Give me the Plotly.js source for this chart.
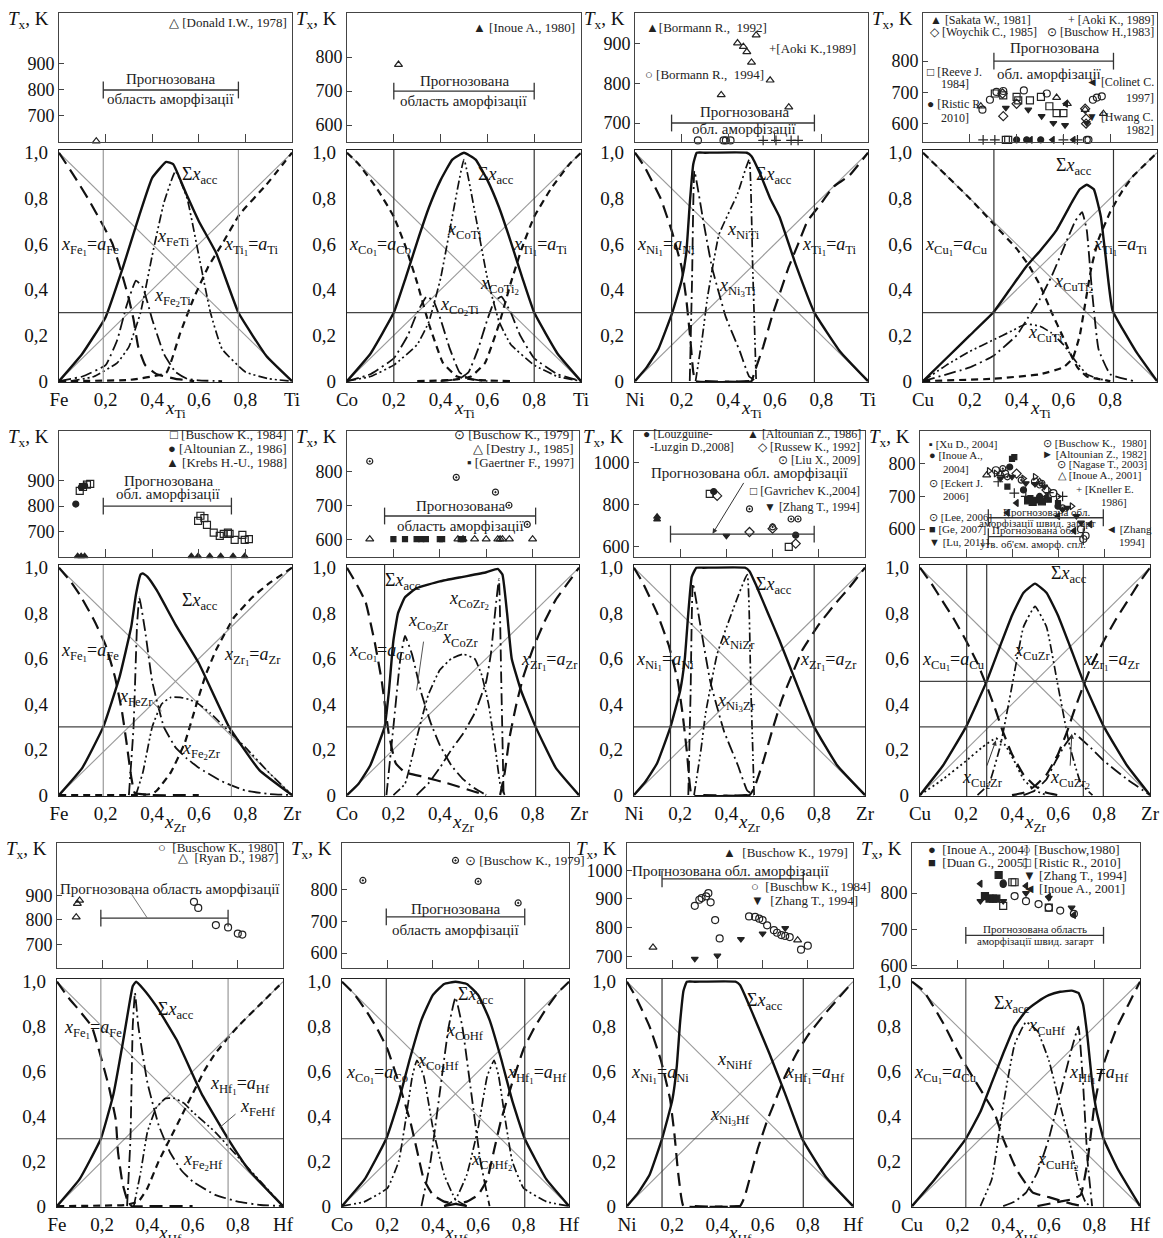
<!DOCTYPE html>
<html><head><meta charset="utf-8">
<script src="https://cdn.plot.ly/plotly-3.0.1.min.js"></script>
<style>body{margin:0;background:#fff}</style></head>
<body><div id="chart" style="width:1163px;height:1238px"></div>
<script>
// ================= DATA =================
const accLevel = [0.3];
const diag_x = [0, 1], diag_dn = [1, 0], diag_up = [0, 1];
const fracTicks = [0, 0.2, 0.4, 0.6, 0.8, 1];
const fracTickText = ['0', '0,2', '0,4', '0,6', '0,8', '1,0'];
const midTickText = ['0,2', '0,4', '0,6', '0,8'];

// ---- P1 Fe-Ti ----
const feti_donald_x = [0.16], feti_donald_y = [603];
const feti_zone = [0.19, 0.77], feti_zoneT = [800];
const feti_sum_x = [0,0.1,0.2,0.275,0.346,0.4,0.46,0.49,0.546,0.6,0.675,0.77,0.89,1];
const feti_sum_y = [0,0.12,0.28,0.5,0.73,0.89,0.96,0.95,0.82,0.7,0.56,0.3,0.11,0];
const feti_fe1_x = [0,0.07,0.13,0.19,0.23,0.27,0.3,0.32,0.34,0.37,0.42,0.5,0.58];
const feti_fe1_y = [1,0.89,0.79,0.68,0.6,0.47,0.36,0.27,0.15,0.07,0.03,0.01,0];
const feti_fe2ti_x = [0,0.1,0.2,0.25,0.29,0.33,0.36,0.4,0.45,0.5,0.55,0.6,0.7];
const feti_fe2ti_y = [0,0.02,0.07,0.18,0.33,0.44,0.41,0.27,0.12,0.04,0.01,0.003,0];
const feti_feti_x = [0.05,0.15,0.25,0.3,0.35,0.4,0.45,0.5,0.55,0.6,0.65,0.7,0.8,0.9,1];
const feti_feti_y = [0,0.02,0.08,0.15,0.3,0.55,0.78,0.92,0.8,0.55,0.3,0.14,0.04,0.01,0];
const feti_ti1_x = [0,0.3,0.46,0.52,0.575,0.64,0.7,0.775,0.89,1];
const feti_ti1_y = [0,0.005,0.036,0.21,0.355,0.5,0.6,0.73,0.86,1];

// ---- P2 Co-Ti ----
const coti_inoue_x = [0.22], coti_inoue_y = [778];
const coti_zone = [0.2, 0.8], coti_zoneT = [700];
const coti_sum_x = [0,0.1,0.2,0.25,0.3,0.35,0.4,0.45,0.5,0.55,0.6,0.65,0.7,0.75,0.8,0.9,1];
const coti_sum_y = [0,0.12,0.3,0.45,0.61,0.76,0.88,0.97,1.0,0.97,0.88,0.76,0.61,0.45,0.3,0.12,0];
const coti_co1_x = [0,0.05,0.13,0.2,0.25,0.3,0.35,0.41,0.47,0.55,0.7];
const coti_co1_y = [1,0.95,0.84,0.72,0.59,0.43,0.25,0.08,0.02,0.005,0];
const coti_ti1_x = [0.3,0.45,0.53,0.59,0.65,0.7,0.75,0.8,0.87,0.95,1];
const coti_ti1_y = [0,0.005,0.02,0.08,0.25,0.43,0.59,0.72,0.84,0.95,1];
const coti_co2ti_x = [0,0.1,0.2,0.26,0.3,0.34,0.37,0.4,0.44,0.48,0.52,0.6];
const coti_co2ti_y = [0,0.03,0.1,0.2,0.3,0.37,0.35,0.27,0.14,0.04,0.01,0];
const coti_coti2_x = [0.4,0.48,0.52,0.56,0.6,0.63,0.66,0.7,0.74,0.8,0.9,1];
const coti_coti2_y = [0,0.01,0.04,0.14,0.27,0.35,0.37,0.3,0.2,0.1,0.03,0];
const coti_coti_x = [0,0.1,0.2,0.3,0.35,0.4,0.45,0.5,0.55,0.6,0.65,0.7,0.8,0.9,1];
const coti_coti_y = [0,0.02,0.07,0.16,0.26,0.45,0.72,0.97,0.72,0.45,0.26,0.16,0.07,0.02,0];

// ---- P3 Ni-Ti ----
const niti_b92_x = [0.37,0.44,0.465,0.48,0.5,0.52,0.58,0.66];
const niti_b92_y = [771,902,893,880,853,922,808,740];
const niti_b94_x = [0.27,0.38,0.39,0.41], niti_b94_y = [656,656,656,656];
const niti_aoki_x = [0.55,0.605,0.67,0.7], niti_aoki_y = [656,656,656,656];
const niti_zone = [0.157, 0.77], niti_zoneT = [700];
const niti_sum_x = [0,0.05,0.1,0.16,0.2,0.22,0.236,0.25,0.265,0.3,0.48,0.5,0.536,0.58,0.62,0.69,0.77,0.88,1];
const niti_sum_y = [0,0.06,0.14,0.3,0.44,0.56,0.79,0.95,1.0,1.0,1.0,0.985,0.91,0.8,0.72,0.51,0.3,0.13,0];
const niti_ni1_x = [0,0.04,0.11,0.16,0.2,0.22,0.236,0.25,0.26,0.5];
const niti_ni1_y = [1,0.94,0.8,0.65,0.5,0.36,0.2,0.04,0,0];
const niti_ni3ti_x = [0.235,0.245,0.255,0.29,0.33,0.39,0.45,0.49,0.52];
const niti_ni3ti_y = [0,0.45,0.92,0.72,0.5,0.28,0.13,0.02,0];
const niti_niti_x = [0.26,0.29,0.31,0.36,0.44,0.49,0.505,0.52];
const niti_niti_y = [0,0.2,0.36,0.64,0.82,0.97,0.5,0];
const niti_ti1_x = [0.3,0.5,0.51,0.55,0.59,0.62,0.66,0.7,0.74,0.8,0.85,0.92,1];
const niti_ti1_y = [0,0,0.03,0.15,0.29,0.38,0.5,0.6,0.7,0.78,0.85,0.9,1];

// ---- P4 Cu-Ti ----
const cuti_sakata_x = [0.247,0.571,0.617,0.693,0.771], cuti_sakata_y = [655,683,663,644,631];
const cuti_busch_x = [0.254,0.286,0.314,0.343,0.431,0.529,0.726,0.743,0.764,0.7,0.707];
const cuti_busch_y = [644,676,701,704,706,696,676,683,687,547,547];
const cuti_woy_x = [0.34,0.343,0.4,0.693,0.697,0.697], cuti_woy_y = [696,623,663,647,615,599];
const cuti_reeve_x = [0.307,0.343,0.4,0.407,0.457,0.504,0.54,0.571,0.6,0.354,0.364];
const cuti_reeve_y = [696,690,685,674,674,685,655,633,633,547,547];
const cuti_hwang_x = [0.354,0.45,0.507,0.557,0.607,0.7], cuti_hwang_y = [650,644,623,601,594,601];
const cuti_colinet_x = [0.611,0.46,0.554,0.643], cuti_colinet_y = [663,547,547,547];
const cuti_aoki_x = [0.257,0.307,0.6,0.66], cuti_aoki_y = [547,547,547,547];
const cuti_ristic_x = [0.4,0.443,0.503], cuti_ristic_y = [547,547,547];
const cuti_zone = [0.303, 0.814], cuti_zoneT = [800];
const cuti_sum_x = [0,0.1,0.2,0.3,0.37,0.44,0.5,0.57,0.64,0.67,0.7,0.73,0.76,0.78,0.81,0.91,1];
const cuti_sum_y = [0,0.1,0.2,0.3,0.4,0.5,0.57,0.66,0.79,0.84,0.86,0.84,0.72,0.55,0.31,0.13,0];
const cuti_cu1_x = [0,0.1,0.2,0.3,0.4,0.45,0.5,0.55,0.6,0.63,0.66,0.7,0.8];
const cuti_cu1_y = [1,0.9,0.8,0.69,0.58,0.51,0.42,0.3,0.19,0.12,0.06,0.02,0];
const cuti_ti1_x = [0,0.3,0.5,0.6,0.64,0.67,0.69,0.72,0.75,0.8,0.85,0.9,0.95,1];
const cuti_ti1_y = [0,0.01,0.03,0.06,0.1,0.2,0.32,0.5,0.62,0.74,0.83,0.9,0.95,1];
const cuti_cuti2_x = [0,0.2,0.3,0.4,0.45,0.5,0.55,0.6,0.65,0.68,0.7,0.72,0.75,0.8,0.9];
const cuti_cuti2_y = [0,0.06,0.11,0.2,0.28,0.36,0.46,0.58,0.7,0.74,0.66,0.42,0.14,0.03,0];
const cuti_cuti_x = [0,0.1,0.2,0.3,0.38,0.44,0.5,0.55,0.6,0.65,0.7,0.75,0.8];
const cuti_cuti_y = [0,0.07,0.13,0.18,0.22,0.25,0.24,0.21,0.16,0.09,0.03,0.01,0];

// ---- P5 Fe-Zr ----
const fezr_busch_x = [0.089,0.103,0.12,0.134,0.597,0.607,0.624,0.635,0.664,0.69,0.707,0.725,0.732,0.754,0.787,0.797,0.815];
const fezr_busch_y = [860,875,884,887,742,762,753,726,696,683,691,696,691,667,687,667,670];
const fezr_alt_x = [0.072,0.096,0.11], fezr_alt_y = [808,874,880];
const fezr_krebs_x = [0.08,0.095,0.11,0.568,0.597,0.647,0.694,0.747,0.797];
const fezr_krebs_y = [603,603,603,603,603,603,603,603,603];
const fezr_zone = [0.19, 0.74], fezr_zoneT = [800];
const fezr_sum_x = [0,0.1,0.19,0.26,0.31,0.33,0.35,0.36,0.38,0.42,0.5,0.6,0.73,0.86,1];
const fezr_sum_y = [0,0.12,0.3,0.52,0.74,0.88,0.97,0.975,0.96,0.9,0.75,0.58,0.3,0.11,0];
const fezr_fe1_x = [0,0.05,0.09,0.15,0.2,0.24,0.27,0.29,0.31,0.325,0.4,0.6];
const fezr_fe1_y = [1,0.94,0.88,0.77,0.66,0.52,0.37,0.23,0.08,0.01,0,0];
const fezr_fe2zr_x = [0.3,0.32,0.335,0.345,0.37,0.4,0.45,0.5,0.55,0.6,0.7,0.8,0.9,1];
const fezr_fe2zr_y = [0,0.3,0.75,0.87,0.72,0.5,0.3,0.21,0.16,0.12,0.06,0.02,0.005,0];
const fezr_fezr_x = [0.33,0.36,0.4,0.44,0.48,0.52,0.56,0.6,0.65,0.7,0.75,0.8,0.9,1];
const fezr_fezr_y = [0,0.1,0.3,0.4,0.43,0.43,0.42,0.4,0.36,0.31,0.26,0.21,0.1,0];
const fezr_zr1_x = [0,0.3,0.4,0.42,0.48,0.54,0.59,0.63,0.675,0.75,0.83,0.9,1];
const fezr_zr1_y = [0,0,0.005,0.02,0.1,0.23,0.4,0.53,0.64,0.78,0.87,0.93,1];

// ---- P6 Co-Zr ----
const cozr_busch_x = [0.098,0.471,0.64,0.698,0.777], cozr_busch_y = [832,784,740,701,644];
const cozr_destry_x = [0.098,0.478,0.5,0.55,0.6,0.65,0.66,0.67,0.7,0.8];
const cozr_destry_y = [600,600,600,600,600,600,600,600,600,600];
const cozr_gaert_x = [0.2,0.25,0.3,0.32,0.34,0.4,0.41,0.49,0.5];
const cozr_gaert_y = [600,600,600,600,600,600,600,600,600];
const cozr_zone = [0.162, 0.813], cozr_zoneT = [669];
const cozr_sum_x = [0,0.05,0.1,0.162,0.18,0.2,0.22,0.25,0.3,0.4,0.5,0.6,0.65,0.67,0.69,0.71,0.75,0.813,0.9,1];
const cozr_sum_y = [0,0.05,0.13,0.3,0.45,0.68,0.8,0.87,0.91,0.94,0.96,0.98,0.995,0.97,0.8,0.6,0.46,0.3,0.12,0];
const cozr_co1_x = [0,0.04,0.08,0.12,0.15,0.18,0.21,0.25,0.33,0.44,0.55,0.6];
const cozr_co1_y = [1,0.93,0.85,0.67,0.5,0.27,0.14,0.1,0.08,0.05,0.015,0];
const cozr_co3zr_x = [0.17,0.2,0.23,0.25,0.28,0.32,0.36,0.4,0.45,0.5,0.55,0.6];
const cozr_co3zr_y = [0,0.3,0.6,0.7,0.62,0.45,0.32,0.22,0.13,0.07,0.03,0];
const cozr_cozr_x = [0.2,0.25,0.3,0.35,0.4,0.45,0.5,0.55,0.58,0.61,0.64,0.66,0.68];
const cozr_cozr_y = [0,0.05,0.25,0.44,0.55,0.6,0.62,0.6,0.53,0.4,0.2,0.05,0];
const cozr_cozr2_x = [0.3,0.35,0.4,0.45,0.5,0.55,0.6,0.62,0.64,0.655,0.665,0.675];
const cozr_cozr2_y = [0,0.05,0.12,0.2,0.27,0.36,0.5,0.62,0.82,0.95,0.5,0];
const cozr_zr1_x = [0.66,0.68,0.7,0.73,0.76,0.8,0.85,0.9,0.95,1];
const cozr_zr1_y = [0,0.1,0.25,0.4,0.52,0.64,0.76,0.86,0.93,1];

// ---- P7 Ni-Zr ----
const nizr_alt_x = [0.1,0.1], nizr_alt_y = [731,744];
const nizr_louz_x = [0.345,0.7], nizr_louz_y = [864,656];
const nizr_russ_x = [0.36,0.5,0.6,0.7], nizr_russ_y = [843,671,687,616];
const nizr_liu_x = [0.5,0.6,0.68,0.71], nizr_liu_y = [781,695,733,733];
const nizr_gav_x = [0.328,0.67], nizr_gav_y = [853,600];
const nizr_zhang_x = [0.4], nizr_zhang_y = [653];
const nizr_zone = [0.158, 0.78], nizr_zoneT = [661];
const nizr_sum_x = [0,0.05,0.1,0.158,0.2,0.22,0.235,0.25,0.27,0.3,0.48,0.5,0.53,0.58,0.63,0.7,0.78,0.88,1];
const nizr_sum_y = [0,0.06,0.14,0.3,0.46,0.6,0.8,0.96,1.0,1.0,1.0,0.985,0.92,0.8,0.68,0.5,0.3,0.13,0];
const nizr_ni1_x = [0,0.04,0.1,0.15,0.19,0.21,0.23,0.24,0.25,0.5];
const nizr_ni1_y = [1,0.93,0.8,0.66,0.5,0.36,0.18,0.06,0,0];
const nizr_ni3zr_x = [0.235,0.245,0.255,0.29,0.33,0.39,0.45,0.49,0.52];
const nizr_ni3zr_y = [0,0.45,0.93,0.73,0.5,0.28,0.13,0.02,0];
const nizr_nizr_x = [0.26,0.29,0.31,0.36,0.43,0.49,0.505,0.52];
const nizr_nizr_y = [0,0.2,0.36,0.62,0.82,0.97,0.5,0];
const nizr_zr1_x = [0.3,0.5,0.52,0.56,0.6,0.64,0.68,0.73,0.8,0.87,0.93,1];
const nizr_zr1_y = [0,0,0.03,0.15,0.29,0.42,0.52,0.64,0.75,0.84,0.91,1];

// ---- P8 Cu-Zr ----
const cuzr_xu_x = [0.4,0.41,0.38,0.48,0.5,0.51,0.56,0.6], cuzr_xu_y = [815,820,730,695,690,688,690,680];
const cuzr_inoue04_x = [0.39,0.45,0.52,0.6], cuzr_inoue04_y = [790,720,700,670];
const cuzr_eckert_x = [0.36,0.44,0.52,0.62], cuzr_eckert_y = [785,750,735,665];
const cuzr_lee_x = [0.42,0.55], cuzr_lee_y = [770,720];
const cuzr_ge_x = [0.47,0.49,0.53], cuzr_ge_y = [688,683,685];
const cuzr_lu_x = [0.35,0.4,0.46,0.5,0.54,0.62,0.64,0.68,0.7], cuzr_lu_y = [755,760,740,738,730,660,665,640,620];
const cuzr_busch_x = [0.33,0.37,0.5,0.58,0.7,0.71,0.72], cuzr_busch_y = [780,770,745,710,600,570,580];
const cuzr_alt_x = [0.3,0.33,0.45,0.5,0.6,0.66], cuzr_alt_y = [778,770,755,760,700,670];
const cuzr_nagase_x = [0.38,0.53], cuzr_nagase_y = [760,740];
const cuzr_inoue01_x = [0.29,0.35,0.52], cuzr_inoue01_y = [765,770,745];
const cuzr_kneller_x = [0.34,0.41,0.46,0.56,0.62], cuzr_kneller_y = [745,710,700,712,700];
const cuzr_zhang_x = [0.38,0.42,0.55,0.6,0.67,0.74], cuzr_zhang_y = [650,680,700,640,595,615];
const cuzr_zone = [0.297, 0.797], cuzr_zoneT = [635];
const cuzr_zone2 = [0.297, 0.71], cuzr_zone2T = [577];
const cuzr_bounds = [0.203, 0.29, 0.71, 0.797];
const cuzr_levels = [0.3, 0.5];
const cuzr_sum_x = [0,0.1,0.2,0.29,0.35,0.4,0.45,0.5,0.55,0.6,0.65,0.71,0.8,0.9,1];
const cuzr_sum_y = [0,0.13,0.3,0.5,0.66,0.79,0.89,0.93,0.89,0.79,0.66,0.5,0.3,0.13,0];
const cuzr_cu1_x = [0,0.05,0.1,0.15,0.2,0.25,0.29,0.33,0.36,0.4,0.45,0.5,0.55,0.6];
const cuzr_cu1_y = [1,0.93,0.85,0.77,0.68,0.58,0.48,0.37,0.28,0.18,0.09,0.04,0.01,0];
const cuzr_zr1_x = [0.4,0.45,0.5,0.55,0.6,0.64,0.67,0.71,0.75,0.8,0.85,0.9,0.95,1];
const cuzr_zr1_y = [0,0.01,0.04,0.09,0.18,0.28,0.37,0.48,0.58,0.68,0.77,0.85,0.93,1];
const cuzr_cuzr_x = [0.25,0.3,0.35,0.4,0.45,0.5,0.55,0.6,0.65,0.7,0.75];
const cuzr_cuzr_y = [0,0.05,0.22,0.48,0.74,0.83,0.74,0.48,0.22,0.05,0];
const cuzr_cu2zr_x = [0,0.1,0.2,0.27,0.33,0.37,0.41,0.45,0.5,0.55];
const cuzr_cu2zr_y = [0,0.07,0.15,0.21,0.25,0.22,0.15,0.07,0.02,0];
const cuzr_cuzr2_x = [0.45,0.5,0.55,0.59,0.63,0.67,0.73,0.8,0.9,1];
const cuzr_cuzr2_y = [0,0.02,0.07,0.15,0.22,0.27,0.22,0.15,0.07,0];

// ---- P9 Fe-Hf ----
const fehf_busch_x = [0.606,0.625,0.703,0.757,0.8,0.82], fehf_busch_y = [874,849,779,769,744,740];
const fehf_ryan_x = [0.085,0.09,0.1], fehf_ryan_y = [811,867,880];
const fehf_zone = [0.194, 0.757], fehf_zoneT = [807];
const fehf_sum_x = [0,0.1,0.194,0.25,0.29,0.32,0.335,0.35,0.38,0.44,0.53,0.64,0.757,0.85,1];
const fehf_sum_y = [0,0.12,0.3,0.5,0.72,0.9,0.98,1.0,0.97,0.89,0.74,0.5,0.3,0.16,0];
const fehf_fe1_x = [0,0.05,0.1,0.154,0.19,0.23,0.26,0.27,0.29,0.31,0.33,0.4,0.6];
const fehf_fe1_y = [1,0.93,0.87,0.8,0.68,0.53,0.385,0.24,0.1,0.03,0,0,0];
const fehf_fe2hf_x = [0.31,0.325,0.335,0.345,0.36,0.4,0.45,0.5,0.55,0.6,0.7,0.8,0.9,1];
const fehf_fe2hf_y = [0,0.3,0.8,0.95,0.8,0.55,0.36,0.24,0.16,0.11,0.05,0.02,0.005,0];
const fehf_fehf_x = [0.34,0.37,0.4,0.44,0.48,0.52,0.56,0.6,0.7,0.8,0.9,1];
const fehf_fehf_y = [0,0.15,0.33,0.44,0.48,0.48,0.46,0.42,0.33,0.22,0.11,0];
const fehf_hf1_x = [0,0.3,0.36,0.4,0.45,0.5,0.55,0.6,0.65,0.7,0.8,0.9,1];
const fehf_hf1_y = [0,0.005,0.02,0.08,0.2,0.3,0.4,0.5,0.6,0.68,0.8,0.9,1];

// ---- P10 Co-Hf ----
const cohf_busch_x = [0.092,0.5,0.6,0.776], cohf_busch_y = [829,892,826,758];
const cohf_zone = [0.195, 0.805], cohf_zoneT = [714];
const cohf_sum_x = [0,0.1,0.195,0.25,0.3,0.35,0.4,0.45,0.5,0.55,0.6,0.65,0.7,0.75,0.805,0.9,1];
const cohf_sum_y = [0,0.12,0.3,0.47,0.66,0.83,0.94,0.99,1.0,0.99,0.94,0.83,0.66,0.47,0.3,0.12,0];
const cohf_co1_x = [0,0.05,0.1,0.15,0.2,0.25,0.3,0.33,0.36,0.4,0.45,0.5,0.55];
const cohf_co1_y = [1,0.95,0.88,0.8,0.7,0.55,0.38,0.25,0.12,0.05,0.02,0.01,0];
const cohf_hf1_x = [0.45,0.5,0.55,0.6,0.64,0.67,0.7,0.75,0.8,0.85,0.9,0.95,1];
const cohf_hf1_y = [0,0.01,0.02,0.05,0.12,0.25,0.38,0.55,0.7,0.8,0.88,0.95,1];
const cohf_cohf_x = [0.35,0.39,0.43,0.47,0.5,0.53,0.57,0.61,0.65];
const cohf_cohf_y = [0,0.2,0.5,0.8,0.93,0.8,0.5,0.2,0];
const cohf_co2hf_x = [0,0.1,0.2,0.25,0.28,0.31,0.33,0.36,0.4,0.45,0.5,0.55];
const cohf_co2hf_y = [0,0.02,0.08,0.2,0.38,0.58,0.65,0.58,0.35,0.14,0.03,0];
const cohf_cohf2_x = [0.45,0.5,0.55,0.6,0.64,0.67,0.69,0.72,0.75,0.8,0.9,1];
const cohf_cohf2_y = [0,0.03,0.14,0.35,0.58,0.65,0.58,0.38,0.2,0.08,0.02,0];

// ---- P11 Ni-Hf ----
const nihf_b79_x = [0.115,0.755], nihf_b79_y = [731,756];
const nihf_b84_x = [0.3,0.32,0.33,0.35,0.36,0.37,0.39,0.41,0.54,0.567,0.585,0.6,0.62,0.65,0.664,0.683,0.7,0.72,0.77,0.8];
const nihf_b84_y = [876,897,903,909,920,888,826,762,839,837,831,826,808,791,782,774,771,767,723,737];
const nihf_zhang_x = [0.3,0.4,0.504,0.6,0.7], nihf_zhang_y = [691,702,760,779,798];
const nihf_zone = [0.155, 0.78], nihf_zoneT = [970];
const nihf_sum_x = [0,0.05,0.1,0.155,0.2,0.22,0.235,0.25,0.265,0.3,0.48,0.5,0.53,0.58,0.63,0.7,0.775,0.88,1];
const nihf_sum_y = [0,0.06,0.14,0.3,0.47,0.62,0.82,0.96,1.0,1.0,1.0,0.985,0.92,0.8,0.68,0.5,0.3,0.13,0];
const nihf_ni1_x = [0,0.04,0.1,0.15,0.19,0.21,0.225,0.24,0.25,0.5];
const nihf_ni1_y = [1,0.93,0.8,0.65,0.48,0.32,0.16,0.04,0,0];
const nihf_hf1_x = [0.3,0.5,0.52,0.55,0.58,0.62,0.66,0.7,0.75,0.8,0.87,0.93,1];
const nihf_hf1_y = [0,0,0.04,0.15,0.26,0.38,0.48,0.58,0.68,0.76,0.85,0.92,1];

// ---- P12 Cu-Hf ----
const cuhf_inoue04_x = [0.4,0.4], cuhf_inoue04_y = [828,824];
const cuhf_duan_x = [0.38,0.32,0.34,0.355,0.37], cuhf_duan_y = [850,792,785,785,785];
const cuhf_busch_x = [0.45,0.5,0.555,0.6,0.65,0.71], cuhf_busch_y = [792,778,770,760,752,743];
const cuhf_ristic_x = [0.4,0.6,0.45,0.44], cuhf_ristic_y = [765,760,830,830];
const cuhf_zhang_x = [0.3,0.4,0.5,0.6,0.7], cuhf_zhang_y = [778,778,800,787,760];
const cuhf_inoue01_x = [0.3,0.5,0.6,0.71], cuhf_inoue01_y = [826,820,790,740];
const cuhf_zone = [0.236, 0.84], cuhf_zoneT = [684];
const cuhf_sum_x = [0,0.1,0.236,0.3,0.35,0.4,0.45,0.5,0.55,0.6,0.65,0.7,0.73,0.75,0.77,0.79,0.81,0.84,0.9,1];
const cuhf_sum_y = [0,0.12,0.3,0.42,0.55,0.68,0.8,0.87,0.91,0.94,0.955,0.96,0.95,0.9,0.75,0.55,0.42,0.3,0.17,0];
const cuhf_cu1_x = [0,0.05,0.14,0.21,0.3,0.36,0.4,0.46,0.53,0.6,0.7,0.75];
const cuhf_cu1_y = [1,0.96,0.81,0.67,0.52,0.42,0.3,0.16,0.06,0.04,0.01,0];
const cuhf_cuhf_x = [0.3,0.35,0.4,0.45,0.5,0.55,0.6,0.65,0.7,0.73,0.76,0.78];
const cuhf_cuhf_y = [0,0.12,0.45,0.72,0.82,0.78,0.65,0.45,0.25,0.1,0.02,0];
const cuhf_cuhf2_x = [0.4,0.45,0.5,0.55,0.6,0.65,0.7,0.73,0.75,0.77,0.79];
const cuhf_cuhf2_y = [0,0.02,0.06,0.15,0.3,0.5,0.7,0.8,0.55,0.2,0];
const cuhf_hf1_x = [0.55,0.65,0.7,0.74,0.77,0.8,0.83,0.87,0.9,0.95,1];
const cuhf_hf1_y = [0,0.02,0.03,0.05,0.2,0.45,0.6,0.72,0.8,0.9,1];

// ================= LAYOUT / STYLE =================
const W = 1163, H = 1238;
const FONT = 'Liberation Serif, "Times New Roman", serif';
const COLS = [[[59,292],[347,581],[635,868],[923,1157]],
              [[59,292],[347,579],[634,865],[920,1150]],
              [[57,283],[342,569],[627,853],[912,1140]]];
const TOPS = [[13,142],[431,557],[843,968]];
const BOTS = [[150,382],[565,796],[979,1207]];
const LS = {
  sum: {color:'#111', width:2.4, dash:'solid'},
  A1:  {color:'#111', width:2.2, dash:'13px,7px'},
  B1:  {color:'#111', width:2.2, dash:'7px,5px'},
  dd:  {color:'#111', width:1.8, dash:'12px,4px,2px,4px'},
  ddd: {color:'#111', width:1.7, dash:'9px,3px,2px,3px,2px,3px'},
  dot: {color:'#111', width:1.8, dash:'2px,3px'}
};
const MK = {
  triOpen:{symbol:'triangle-up-open', size:7}, tri:{symbol:'triangle-up', size:6},
  circOpen:{symbol:'circle-open', size:7}, circ:{symbol:'circle', size:6},
  circDot:{symbol:'circle-open-dot', size:6}, sqOpen:{symbol:'square-open', size:7},
  sq:{symbol:'square', size:5}, sqBig:{symbol:'square', size:7}, diaOpen:{symbol:'diamond-open', size:7},
  triDown:{symbol:'triangle-down', size:6}, triLeft:{symbol:'triangle-left', size:6},
  triRight:{symbol:'triangle-right-open', size:6}, plus:{symbol:'cross-thin-open', size:7}
};
const X = '<i>x</i>';
function sub(a){return '<sub>'+a+'</sub>';}
function el(A){return X+'<sub>'+A+'<sub>1</sub></sub>=<i>a</i>'+sub(A);}

const panels = [
 {A:'Fe',B:'Ti',tr:[600,1096],tt:[700,800,900],
  pts:[[feti_donald_x,feti_donald_y,'triOpen']],
  leg:[['△ [Donald I.W., 1978]',0.985,1058,'right']],
  zones:[[feti_zone,feti_zoneT]], zt:[['Прогнозована',0.48,842,15],['область аморфізації',0.48,766,15]],
  vl:feti_zone, hl:accLevel, vcol:'#999', diag:2,
  cur:[[feti_fe1_x,feti_fe1_y,'A1'],[feti_fe2ti_x,feti_fe2ti_y,'dd'],[feti_feti_x,feti_feti_y,'ddd'],[feti_ti1_x,feti_ti1_y,'B1'],[feti_sum_x,feti_sum_y,'sum']],
  lab:[['Σ'+X+sub('acc'),0.52,0.9],[X+sub('FeTi'),0.41,0.63],[el('Fe'),0.0,0.59],[el('Ti'),0.7,0.59],[X+sub('Fe<sub>2</sub>Ti'),0.4,0.37]]},
 {A:'Co',B:'Ti',tr:[550,930],tt:[600,700,800],
  pts:[[coti_inoue_x,coti_inoue_y,'triOpen']],
  leg:[['▲ [Inoue A., 1980]',0.985,887,'right']],
  zones:[[coti_zone,coti_zoneT]], zt:[['Прогнозована',0.5,729,15],['область аморфізації',0.5,671,15]],
  vl:coti_zone, hl:accLevel, vcol:'#333', diag:2,
  cur:[[coti_co1_x,coti_co1_y,'B1'],[coti_ti1_x,coti_ti1_y,'B1'],[coti_co2ti_x,coti_co2ti_y,'dd'],[coti_coti2_x,coti_coti2_y,'dd'],[coti_coti_x,coti_coti_y,'ddd'],[coti_sum_x,coti_sum_y,'sum']],
  lab:[['Σ'+X+sub('acc'),0.55,0.9],[X+sub('CoTi'),0.42,0.66],[el('Co'),0.0,0.59],[el('Ti'),0.7,0.59],[X+sub('CoTi<sub>2</sub>'),0.56,0.42],[X+sub('Co<sub>2</sub>Ti'),0.39,0.33]]},
 {A:'Ni',B:'Ti',tr:[652,978],tt:[700,800,900],
  pts:[[niti_b92_x,niti_b92_y,'triOpen'],[niti_b94_x,niti_b94_y,'circOpen'],[niti_aoki_x,niti_aoki_y,'plus']],
  leg:[['▲[Bormann R.,  1992]',0.04,942,'left'],['+[Aoki K.,1989]',0.565,888,'left'],['○ [Bormann R.,  1994]',0.035,822,'left']],
  zones:[[niti_zone,niti_zoneT]], zt:[['Прогнозована',0.47,729,15],['обл. аморфізації',0.47,684,15]],
  vl:niti_zone, hl:accLevel, vcol:'#333', diag:2,
  cur:[[niti_ni1_x,niti_ni1_y,'A1'],[niti_ni3ti_x,niti_ni3ti_y,'dd'],[niti_niti_x,niti_niti_y,'ddd'],[niti_ti1_x,niti_ti1_y,'A1'],[niti_sum_x,niti_sum_y,'sum']],
  lab:[['Σ'+X+sub('acc'),0.51,0.9],[X+sub('NiTi'),0.385,0.66],[el('Ni'),0.0,0.59],[el('Ti'),0.71,0.59],[X+sub('Ni<sub>3</sub>Ti'),0.35,0.41]]},
 {A:'Cu',B:'Ti',tr:[540,955],tt:[600,700,800], lf:12,
  pts:[[cuti_sakata_x,cuti_sakata_y,'triOpen'],[cuti_busch_x,cuti_busch_y,'circOpen'],[cuti_woy_x,cuti_woy_y,'diaOpen'],[cuti_reeve_x,cuti_reeve_y,'sqOpen'],[cuti_hwang_x,cuti_hwang_y,'triDown'],[cuti_colinet_x,cuti_colinet_y,'triLeft'],[cuti_aoki_x,cuti_aoki_y,'plus'],[cuti_ristic_x,cuti_ristic_y,'circ']],
  leg:[['▲ [Sakata W., 1981]',0.02,932,'left'],['+ [Aoki K., 1989]',0.995,932,'right'],['◇ [Woychik C., 1985]',0.02,893,'left'],['⊙ [Buschow H.,1983]',0.995,893,'right'],
       ['□ [Reeve J.',0.01,764,'left'],['1984]',0.07,725,'left'],['● [Ristic R.',0.01,661,'left'],['2010]',0.07,617,'left'],
       ['◄ [Colinet C.',0.995,733,'right'],['1997]',0.995,682,'right'],['▼ [Hwang C.',0.995,621,'right'],['1982]',0.995,578,'right']],
  zones:[[cuti_zone,cuti_zoneT]], zt:[['Прогнозована',0.56,842,15],['обл. аморфізації',0.54,758,15]],
  vl:cuti_zone, hl:accLevel, vcol:'#333', diag:2,
  cur:[[cuti_cu1_x,cuti_cu1_y,'B1'],[cuti_ti1_x,cuti_ti1_y,'B1'],[cuti_cuti2_x,cuti_cuti2_y,'dd'],[cuti_cuti_x,cuti_cuti_y,'ddd'],[cuti_sum_x,cuti_sum_y,'sum']],
  lab:[['Σ'+X+sub('acc'),0.56,0.94],[el('Cu'),0.0,0.59],[el('Ti'),0.72,0.59],[X+sub('CuTi<sub>2</sub>'),0.55,0.43],[X+sub('CuTi'),0.44,0.21]]},
 {A:'Fe',B:'Zr',tr:[600,1095],tt:[700,800,900],
  pts:[[fezr_busch_x,fezr_busch_y,'sqOpen'],[fezr_alt_x,fezr_alt_y,'circ'],[fezr_krebs_x,fezr_krebs_y,'tri']],
  leg:[['□ [Buschow K., 1984]',0.985,1082,'right'],['● [Altounian Z., 1986]',0.985,1026,'right'],['▲ [Krebs H.-U., 1988]',0.985,970,'right']],
  zones:[[fezr_zone,fezr_zoneT]], zt:[['Прогнозована',0.47,898,15],['обл. аморфізації',0.47,846,15]],
  vl:fezr_zone, hl:accLevel, vcol:'#999', diag:2,
  cur:[[fezr_fe1_x,fezr_fe1_y,'A1'],[fezr_fe2zr_x,fezr_fe2zr_y,'dd'],[fezr_fezr_x,fezr_fezr_y,'ddd'],[fezr_zr1_x,fezr_zr1_y,'B1'],[fezr_sum_x,fezr_sum_y,'sum']],
  lab:[['Σ'+X+sub('acc'),0.52,0.85],[el('Fe'),0.0,0.63],[el('Zr'),0.7,0.61],[X+sub('FeZr'),0.25,0.43],[X+sub('Fe<sub>2</sub>Zr'),0.52,0.2]],
  lines:[[0.4,0.41,0.44,0.37]]},
 {A:'Co',B:'Zr',tr:[547,922],tt:[600,700,800],
  pts:[[cozr_busch_x,cozr_busch_y,'circDot'],[cozr_destry_x,cozr_destry_y,'triOpen'],[cozr_gaert_x,cozr_gaert_y,'sq']],
  leg:[['⊙ [Buschow K., 1979]',0.985,912,'right'],['△ [Destry J., 1985]',0.985,869,'right'],['▪ [Gaertner F., 1997]',0.985,827,'right']],
  zones:[[cozr_zone,cozr_zoneT]], zt:[['Прогнозована',0.49,698,15],['область аморфізації',0.49,639,15]],
  vl:cozr_zone, hl:accLevel, vcol:'#333', diag:1,
  cur:[[cozr_co1_x,cozr_co1_y,'A1'],[cozr_co3zr_x,cozr_co3zr_y,'dd'],[cozr_cozr_x,cozr_cozr_y,'ddd'],[cozr_cozr2_x,cozr_cozr2_y,'dd'],[cozr_zr1_x,cozr_zr1_y,'A1'],[cozr_sum_x,cozr_sum_y,'sum']],
  lab:[['Σ'+X+sub('acc'),0.155,0.94],[X+sub('CoZr<sub>2</sub>'),0.43,0.86],[X+sub('Co<sub>3</sub>Zr'),0.255,0.76],[X+sub('CoZr'),0.4,0.69],[el('Co'),0.0,0.63],[el('Zr'),0.74,0.59]],
  lines:[[0.33,0.675,0.3,0.46]]},
 {A:'Ni',B:'Zr',tr:[552,1152],tt:[600,800,1000], lf:12,
  pts:[[nizr_alt_x,nizr_alt_y,'tri'],[nizr_louz_x,nizr_louz_y,'circ'],[nizr_russ_x,nizr_russ_y,'diaOpen'],[nizr_liu_x,nizr_liu_y,'circDot'],[nizr_gav_x,nizr_gav_y,'sqOpen'],[nizr_zhang_x,nizr_zhang_y,'triDown']],
  leg:[['● [Louzguine-',0.03,1138,'left'],['-Luzgin D.,2008]',0.06,1075,'left'],['▲ [Altounian Z., 1986]',0.99,1138,'right'],['◇ [Russew K., 1992]',0.985,1075,'right'],['⊙ [Liu X., 2009]',0.985,1012,'right'],
       ['□ [Gavrichev K.,2004]',0.985,866,'right'],['▼ [Zhang T., 1994]',0.985,792,'right']],
  zones:[[nizr_zone,nizr_zoneT]], zt:[],
  arrows:[['Прогнозована обл. аморфізації',0.5,950,0.34,663,15]],
  vl:nizr_zone, hl:accLevel, vcol:'#333', diag:2,
  cur:[[nizr_ni1_x,nizr_ni1_y,'A1'],[nizr_ni3zr_x,nizr_ni3zr_y,'dd'],[nizr_nizr_x,nizr_nizr_y,'ddd'],[nizr_zr1_x,nizr_zr1_y,'A1'],[nizr_sum_x,nizr_sum_y,'sum']],
  lab:[['Σ'+X+sub('acc'),0.52,0.92],[X+sub('NiZr'),0.37,0.68],[el('Ni'),0.0,0.59],[el('Zr'),0.71,0.59],[X+sub('Ni<sub>3</sub>Zr'),0.35,0.41]]},
 {A:'Cu',B:'Zr',tr:[515,900],tt:[600,700,800], lf:11,
  pts:[[cuzr_xu_x,cuzr_xu_y,'sq'],[cuzr_inoue04_x,cuzr_inoue04_y,'circ'],[cuzr_eckert_x,cuzr_eckert_y,'circDot'],[cuzr_lee_x,cuzr_lee_y,'diaOpen'],[cuzr_ge_x,cuzr_ge_y,'sqBig'],[cuzr_lu_x,cuzr_lu_y,'triDown'],
       [cuzr_busch_x,cuzr_busch_y,'circOpen'],[cuzr_alt_x,cuzr_alt_y,'triRight'],[cuzr_nagase_x,cuzr_nagase_y,'circDot'],[cuzr_inoue01_x,cuzr_inoue01_y,'triOpen'],[cuzr_kneller_x,cuzr_kneller_y,'plus'],[cuzr_zhang_x,cuzr_zhang_y,'triLeft']],
  leg:[['▪ [Xu D., 2004]',0.03,860,'left'],['● [Inoue A.,',0.03,826,'left'],['2004]',0.09,784,'left'],['⊙ [Eckert J.',0.03,742,'left'],['2006]',0.09,700,'left'],['⊙ [Lee, 2006]',0.03,637,'left'],['■ [Ge, 2007]',0.03,602,'left'],['▼ [Lu, 2011]',0.03,562,'left'],
       ['⊙ [Buschow K.,  1980]',0.995,862,'right'],['► [Altounian Z., 1982]',0.995,829,'right'],['⊙ [Nagase T., 2003]',0.995,800,'right'],['△ [Inoue A., 2001]',0.97,766,'right'],['+ [Kneller E.',0.67,722,'left'],['1986]',0.78,684,'left'],['◄ [Zhang',0.8,600,'left'],['1994]',0.985,562,'right']],
  zones:[[cuzr_zone,cuzr_zoneT],[cuzr_zone2,cuzr_zone2T]],
  zt:[['Прогнозована обл.',0.55,652,11],['аморфізації швид. загарт',0.51,619,11],['Прогнозована обл.',0.5,596,11],['утв. об\'єм. аморф. спл.',0.49,556,11]],
  vl:cuzr_bounds, hl:cuzr_levels, vcol:'#333', diag:2,
  cur:[[cuzr_cu1_x,cuzr_cu1_y,'A1'],[cuzr_zr1_x,cuzr_zr1_y,'A1'],[cuzr_cuzr_x,cuzr_cuzr_y,'ddd'],[cuzr_cu2zr_x,cuzr_cu2zr_y,'dot'],[cuzr_cuzr2_x,cuzr_cuzr2_y,'dd'],[cuzr_sum_x,cuzr_sum_y,'sum']],
  lab:[['Σ'+X+sub('acc'),0.56,0.97],[X+sub('CuZr'),0.4,0.63],[el('Cu'),0.0,0.59],[el('Zr'),0.7,0.59]],
  arrowsB:[[X+sub('Cu<sub>2</sub>Zr'),0.27,0.07,0.33,0.24],[X+sub('CuZr<sub>2</sub>'),0.65,0.07,0.66,0.27]]},
 {A:'Fe',B:'Hf',tr:[603,1115],tt:[700,800,900],
  pts:[[fehf_busch_x,fehf_busch_y,'circOpen'],[fehf_ryan_x,fehf_ryan_y,'triOpen']],
  leg:[['○  [Buschow K., 1980]',0.985,1098,'right'],['△  [Ryan D., 1987]',0.985,1056,'right']],
  zones:[[fehf_zone,fehf_zoneT]], zt:[['Прогнозована область аморфізації',0.5,928,15]],
  vl:fehf_zone, hl:accLevel, vcol:'#999', diag:2,
  cur:[[fehf_fe1_x,fehf_fe1_y,'A1'],[fehf_fe2hf_x,fehf_fe2hf_y,'dd'],[fehf_fehf_x,fehf_fehf_y,'ddd'],[fehf_hf1_x,fehf_hf1_y,'B1'],[fehf_sum_x,fehf_sum_y,'sum']],
  lab:[['Σ'+X+sub('acc'),0.44,0.87],[el('Fe'),0.02,0.79],[el('Hf'),0.67,0.54],[X+sub('FeHf'),0.8,0.44],[X+sub('Fe<sub>2</sub>Hf'),0.55,0.2]],
  lines:[[0.79,0.41,0.72,0.35]], linesT:[[0.4,807,0.33,905]]},
 {A:'Co',B:'Hf',tr:[553,947],tt:[600,700,800],
  pts:[[cohf_busch_x,cohf_busch_y,'circDot']],
  leg:[['⊙ [Buschow K., 1979]',0.535,892,'left']],
  zones:[[cohf_zone,cohf_zoneT]], zt:[['Прогнозована',0.5,738,15],['область аморфізації',0.5,674,15]],
  vl:cohf_zone, hl:accLevel, vcol:'#333', diag:2,
  cur:[[cohf_co1_x,cohf_co1_y,'A1'],[cohf_hf1_x,cohf_hf1_y,'A1'],[cohf_co2hf_x,cohf_co2hf_y,'ddd'],[cohf_cohf2_x,cohf_cohf2_y,'ddd'],[cohf_cohf_x,cohf_cohf_y,'dd'],[cohf_sum_x,cohf_sum_y,'sum']],
  lab:[['Σ'+X+sub('acc'),0.5,0.94],[X+sub('CoHf'),0.45,0.78],[X+sub('Co<sub>2</sub>Hf'),0.32,0.64],[el('Co'),0.01,0.59],[el('Hf'),0.72,0.59],[X+sub('CoHf<sub>2</sub>'),0.56,0.2]]},
 {A:'Ni',B:'Hf',tr:[659,1095],tt:[700,800,900,1000],
  pts:[[nihf_b79_x,nihf_b79_y,'triOpen'],[nihf_b84_x,nihf_b84_y,'circOpen'],[nihf_zhang_x,nihf_zhang_y,'triDown']],
  leg:[['▲  [Buschow K., 1979]',0.985,1062,'right'],['○  [Buschow K., 1984]',0.54,944,'left'],['▼  [Zhang T., 1994]',0.54,894,'left']],
  zones:[[nihf_zone,nihf_zoneT]], zt:[['Прогнозована обл. аморфізації',0.46,998,15]],
  vl:nihf_zone, hl:accLevel, vcol:'#333', diag:2,
  cur:[[nihf_ni1_x,nihf_ni1_y,'A1'],[nihf_hf1_x,nihf_hf1_y,'A1'],[nihf_sum_x,nihf_sum_y,'sum']],
  lab:[['Σ'+X+sub('acc'),0.52,0.91],[X+sub('NiHf'),0.39,0.65],[el('Ni'),0.01,0.59],[el('Hf'),0.69,0.59],[X+sub('Ni<sub>3</sub>Hf'),0.36,0.4]]},
 {A:'Cu',B:'Hf',tr:[594,938],tt:[600,700,800],
  pts:[[cuhf_inoue04_x,cuhf_inoue04_y,'circ'],[cuhf_duan_x,cuhf_duan_y,'sqBig'],[cuhf_busch_x,cuhf_busch_y,'circOpen'],[cuhf_ristic_x,cuhf_ristic_y,'sqOpen'],[cuhf_zhang_x,cuhf_zhang_y,'triDown'],[cuhf_inoue01_x,cuhf_inoue01_y,'triLeft']],
  leg:[['●  [Inoue A., 2004]',0.06,920,'left'],['■  [Duan G., 2005]',0.06,884,'left'],['○ [Buschow,1980]',0.48,920,'left'],['□ [Ristic R., 2010]',0.48,884,'left'],['▼ [Zhang T., 1994]',0.48,848,'left'],['◄ [Inoue A., 2001]',0.48,812,'left']],
  zones:[[cuhf_zone,cuhf_zoneT]], zt:[['Прогнозована область',0.54,702,11],['аморфізації швид. загарт',0.54,667,11]],
  vl:cuhf_zone, hl:accLevel, vcol:'#555', diag:2,
  cur:[[cuhf_cu1_x,cuhf_cu1_y,'A1'],[cuhf_cuhf_x,cuhf_cuhf_y,'ddd'],[cuhf_cuhf2_x,cuhf_cuhf2_y,'dd'],[cuhf_hf1_x,cuhf_hf1_y,'A1'],[cuhf_sum_x,cuhf_sum_y,'sum']],
  lab:[['Σ'+X+sub('acc'),0.35,0.9],[X+sub('CuHf'),0.5,0.8],[el('Cu'),0.0,0.59],[el('Hf'),0.68,0.59],[X+sub('CuHf<sub>2</sub>'),0.54,0.2]]}
];

// ================= BUILD =================
const traces = [], ann = [], shp = [];
const layout = {width:W, height:H, margin:{l:0,r:0,t:0,b:0}, paper_bgcolor:'#fff', plot_bgcolor:'#fff',
  showlegend:false, font:{family:FONT, color:'#111'}, annotations:ann, shapes:shp};
function sid(n){return n===1?'':String(n);}
panels.forEach((p,k)=>{
  const r = Math.floor(k/4), c = k%4;
  const [L,R] = COLS[r][c], [tT,tB] = TOPS[r], [bT,bB] = BOTS[r];
  const nT = 2*k+1, nB = 2*k+2;
  const xt='x'+sid(nT), yt='y'+sid(nT), xb='x'+sid(nB), yb='y'+sid(nB);
  const xd=[L/W,R/W];
  const lf = p.lf || 13;
  layout['xaxis'+sid(nT)] = {domain:xd, range:[0,1], anchor:yt, showline:true, mirror:true, linecolor:'#444', linewidth:1,
    ticks:'inside', ticklen:8, tickcolor:'#444', tickvals:[0.2,0.4,0.6,0.8], showticklabels:false, showgrid:false, zeroline:false, fixedrange:true};
  layout['yaxis'+sid(nT)] = {domain:[1-tB/H,1-tT/H], range:p.tr, anchor:xt, showline:true, mirror:true, linecolor:'#444', linewidth:1,
    ticks:'inside', ticklen:5, tickcolor:'#444', tickvals:p.tt, ticktext:p.tt.map(String), tickfont:{family:FONT,size:18,color:'#111'},
    showgrid:false, zeroline:false, fixedrange:true};
  layout['xaxis'+sid(nB)] = {domain:xd, range:[0,1], anchor:yb, showline:true, mirror:true, linecolor:'#222', linewidth:1.2,
    ticks:'', tickvals:fracTicks, ticktext:[p.A].concat(midTickText,[p.B]),
    tickfont:{family:FONT,size:19,color:'#111'}, showgrid:false, zeroline:false, fixedrange:true};
  layout['yaxis'+sid(nB)] = {domain:[1-bB/H,1-bT/H], range:[-0.004,1.012], anchor:xb, showline:true, mirror:true, linecolor:'#222', linewidth:1.2,
    ticks:'outside', ticklen:6, tickcolor:'rgba(0,0,0,0)', tickvals:fracTicks, ticktext:fracTickText,
    tickfont:{family:FONT,size:19,color:'#111'}, showgrid:false, zeroline:false, fixedrange:true};

  ann.push({xref:'paper', yref:'paper', x:(L-8)/W, y:1-(tT+7)/H, xanchor:'right', yanchor:'middle', showarrow:false,
    text:'<i>T</i><sub>x</sub>, K', font:{family:FONT,size:19,color:'#111'}});
  ann.push({xref:xb, yref:'paper', x:0.5, y:1-(bB+27)/H, xanchor:'center', yanchor:'middle', showarrow:false,
    text:X+sub(p.B), font:{family:FONT,size:19,color:'#111'}});

  p.pts.forEach(s=>{
    const m = MK[s[2]];
    traces.push({type:'scatter', mode:'markers', x:s[0], y:s[1], xaxis:xt, yaxis:yt, hoverinfo:'skip', cliponaxis:false,
      marker:{symbol:m.symbol, size:m.size, color:'#222', line:{color:'#222', width:1.2}}});
  });
  p.zones.forEach(z=>{
    traces.push({type:'scatter', mode:'lines+markers', x:z[0], y:[z[1][0],z[1][0]], xaxis:xt, yaxis:yt, hoverinfo:'skip',
      line:{color:'#333', width:1.3}, marker:{symbol:'line-ns-open', size:12, color:'#333', line:{color:'#333', width:1.3}}});
  });
  p.zt.forEach(t=>ann.push({xref:xt, yref:yt, x:t[1], y:t[2], showarrow:false, text:t[0], xanchor:'center', yanchor:'middle',
    font:{family:FONT,size:t[3],color:'#222'}}));
  p.leg.forEach(t=>ann.push({xref:xt, yref:yt, x:t[1], y:t[2], showarrow:false, text:t[0], xanchor:t[3], yanchor:'middle',
    font:{family:FONT,size:lf,color:'#222'}}));
  (p.arrows||[]).forEach(a=>ann.push({xref:xt, yref:yt, axref:xt, ayref:yt, x:a[3], y:a[4], ax:a[1], ay:a[2], text:a[0],
    showarrow:true, arrowhead:2, arrowsize:1, arrowwidth:1, arrowcolor:'#333', font:{family:FONT,size:a[5],color:'#222'}}));
  (p.linesT||[]).forEach(l=>shp.push({type:'line', xref:xt, yref:yt, x0:l[0], y0:l[1], x1:l[2], y1:l[3], line:{color:'#777', width:1}}));

  p.vl.forEach(v=>shp.push({type:'line', xref:xb, yref:yb+' domain', x0:v, x1:v, y0:0, y1:1, line:{color:p.vcol, width:1.2}}));
  p.hl.forEach(h=>shp.push({type:'line', xref:xb+' domain', yref:yb, x0:0, x1:1, y0:h, y1:h, line:{color:'#444', width:1.1}}));
  traces.push({type:'scatter', mode:'lines', x:diag_x, y:diag_up, xaxis:xb, yaxis:yb, hoverinfo:'skip', line:{color:'#9a9a9a', width:1.1}});
  if(p.diag===2) traces.push({type:'scatter', mode:'lines', x:diag_x, y:diag_dn, xaxis:xb, yaxis:yb, hoverinfo:'skip', line:{color:'#9a9a9a', width:1.1}});
  p.cur.forEach(cv=>{
    traces.push({type:'scatter', mode:'lines', x:cv[0], y:cv[1], xaxis:xb, yaxis:yb, hoverinfo:'skip',
      line:Object.assign({shape:'spline', smoothing:0.35}, LS[cv[2]])});
  });
  p.lab.forEach(t=>ann.push({xref:xb, yref:yb, x:t[1], y:t[2], showarrow:false, text:t[0], xanchor:'left', yanchor:'middle',
    font:{family:FONT,size:18,color:'#111'}}));
  (p.lines||[]).forEach(l=>shp.push({type:'line', xref:xb, yref:yb, x0:l[0], y0:l[1], x1:l[2], y1:l[3], line:{color:'#555', width:1}}));
  (p.arrowsB||[]).forEach(a=>ann.push({xref:xb, yref:yb, axref:xb, ayref:yb, x:a[3], y:a[4], ax:a[1], ay:a[2], text:a[0],
    showarrow:true, arrowhead:2, arrowsize:1, arrowwidth:1, arrowcolor:'#333', font:{family:FONT,size:18,color:'#111'}}));
});

Plotly.newPlot('chart', traces, layout, {staticPlot:true, displayModeBar:false});
</script>
</body></html>
